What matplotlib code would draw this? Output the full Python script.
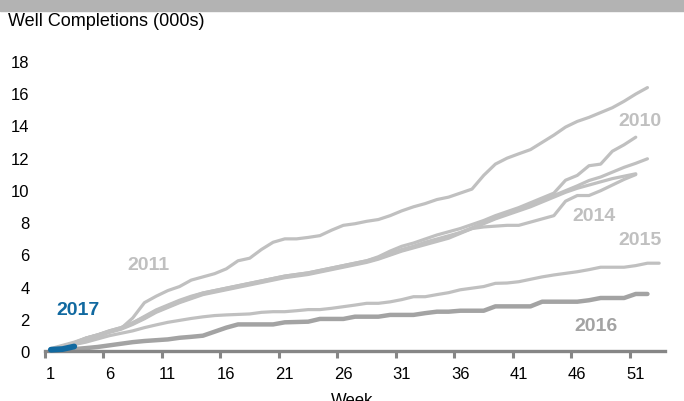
import numpy as np
import matplotlib.pyplot as plt
from matplotlib.patches import Rectangle

plt.rcParams['font.family'] = ['Liberation Sans', 'DejaVu Sans']

# weekly cumulative well completions (000s)
y2011 = [0.15, 0.35, 0.55, 0.8, 1.0, 1.2, 1.4, 2.05, 3.0, 3.4, 3.75, 4.0, 4.4, 4.6, 4.8,
         5.1, 5.6, 5.76, 6.3, 6.75, 6.96, 6.96, 7.05, 7.16, 7.5, 7.8, 7.9, 8.05, 8.16, 8.4,
         8.7, 8.95, 9.15, 9.4, 9.55, 9.8, 10.05, 10.9, 11.6, 11.97, 12.24, 12.5, 12.95, 13.4,
         13.9, 14.25, 14.5, 14.8, 15.1, 15.5, 15.95, 16.35]
y2010 = [0.1, 0.3, 0.5, 0.8, 1.0, 1.25, 1.45, 1.75, 2.15, 2.55, 2.85, 3.15, 3.4, 3.6, 3.75,
         3.9, 4.05, 4.2, 4.35, 4.5, 4.65, 4.75, 4.85, 5.0, 5.15, 5.3, 5.45, 5.6, 5.85, 6.2,
         6.5, 6.7, 6.95, 7.2, 7.4, 7.6, 7.85, 8.1, 8.4, 8.65, 8.9, 9.2, 9.5, 9.8, 10.6,
         10.9, 11.5, 11.6, 12.4, 12.8, 13.27]
y2012 = [0.1, 0.3, 0.5, 0.75, 0.95, 1.2, 1.4, 1.7, 2.05, 2.45, 2.75, 3.05, 3.3, 3.55, 3.7,
         3.85, 4.0, 4.15, 4.3, 4.45, 4.6, 4.7, 4.8, 4.95, 5.1, 5.25, 5.4, 5.55, 5.75, 6.0,
         6.25, 6.45, 6.7, 6.9, 7.1, 7.35, 7.65, 7.95, 8.25, 8.55, 8.8, 9.1, 9.4, 9.65, 9.95,
         10.25, 10.58, 10.8, 11.1, 11.4, 11.65, 11.93]
y2013 = [0.1, 0.25, 0.45, 0.7, 0.9, 1.15, 1.35, 1.65, 2.0, 2.4, 2.7, 3.0, 3.25, 3.5, 3.65,
         3.8, 3.95, 4.1, 4.25, 4.4, 4.55, 4.65, 4.75, 4.9, 5.05, 5.2, 5.35, 5.5, 5.7, 5.95,
         6.2, 6.4, 6.6, 6.8, 7.0, 7.3, 7.6, 7.9, 8.2, 8.45, 8.7, 8.95, 9.25, 9.55, 9.85,
         10.1, 10.3, 10.5, 10.7, 10.85, 11.0]
y2014 = [0.1, 0.3, 0.5, 0.8, 1.0, 1.25, 1.45, 1.75, 2.1, 2.5, 2.8, 3.1, 3.35, 3.6, 3.75,
         3.9, 4.05, 4.2, 4.35, 4.5, 4.65, 4.75, 4.85, 5.0, 5.15, 5.3, 5.45, 5.6, 5.8, 6.05,
         6.3, 6.5, 6.75, 6.95, 7.15, 7.35, 7.6, 7.7, 7.75, 7.8, 7.8, 8.0, 8.2, 8.4, 9.3,
         9.65, 9.65, 9.95, 10.3, 10.65, 10.95]
y2015 = [0.1, 0.25, 0.4, 0.55, 0.75, 0.95, 1.1, 1.25, 1.45, 1.62, 1.78, 1.9, 2.02, 2.12, 2.2,
         2.24, 2.27, 2.3, 2.4, 2.44, 2.44, 2.5, 2.57, 2.57, 2.65, 2.75, 2.85, 2.96, 2.96, 3.05,
         3.19, 3.37, 3.37, 3.5, 3.62, 3.8, 3.9, 4.0, 4.2, 4.22, 4.3, 4.45, 4.6, 4.72, 4.82,
         4.92, 5.05, 5.2, 5.2, 5.2, 5.3, 5.45, 5.45]
y2016 = [0.05, 0.08, 0.12, 0.18, 0.25, 0.35, 0.45, 0.55, 0.62, 0.67, 0.72, 0.82, 0.88, 0.95,
         1.2, 1.45, 1.65, 1.65, 1.65, 1.65, 1.78, 1.8, 1.82, 1.99, 1.99, 1.99, 2.13, 2.13, 2.13,
         2.24, 2.24, 2.24, 2.35, 2.44, 2.44, 2.5, 2.5, 2.5, 2.77, 2.77, 2.77, 2.77, 3.06, 3.06,
         3.06, 3.06, 3.15, 3.29, 3.29, 3.29, 3.54, 3.54]
y2017 = [0.08, 0.12, 0.28]

light = '#c0c0c0'
dark = '#a3a3a3'
blue = '#1169a0'
axis_col = '#868686'

fig = plt.figure(figsize=(6.84, 4.02), dpi=100)
ax = fig.add_axes([45 / 684, 1 - 352 / 402, 620 / 684, 290 / 402])

# grey band along the top
fig.patches.append(Rectangle((0, 1 - 12 / 402), 1, 12 / 402, transform=fig.transFigure,
                             color='#b3b3b3', zorder=0))

for ys in [y2015, y2014, y2013, y2012, y2010, y2011]:
    ax.plot(np.arange(1, len(ys) + 1), ys, color=light, lw=2.3, solid_capstyle='round',
            solid_joinstyle='round', clip_on=False)
ax.plot(np.arange(1, len(y2016) + 1), y2016, color=dark, lw=3.2, solid_capstyle='round',
        clip_on=False)
ax.plot(np.arange(1, len(y2017) + 1), y2017, color=blue, lw=4.2, solid_capstyle='round',
        clip_on=False, zorder=5)

# year labels
lab = dict(fontsize=14, fontweight='bold', ha='center', va='center')
ax.text(26.5 / 11.69 * 0 + 9.3, 5.4, '2011', color=light, **lab)
ax.text(3.3, 2.6, '2017', color=blue, **lab)
ax.text(51.4, 14.3, '2010', color=light, **lab)
ax.text(47.4, 8.4, '2014', color=light, **lab)
ax.text(51.4, 6.9, '2015', color=light, **lab)
ax.text(47.6, 1.6, '2016', color=dark, **lab)

ax.set_xlim(0.5, 53.5)
ax.set_ylim(0, 18)
ax.set_yticks(range(0, 19, 2))
ax.tick_params(axis='y', length=0, pad=11, labelsize=12)

weeks = list(range(1, 52, 5))
ax.set_xticks([w - 0.5 for w in weeks])
ax.set_xticklabels([])
ax.set_xticks(weeks, minor=True)
ax.set_xticklabels([str(w) for w in weeks], minor=True)
ax.tick_params(axis='x', which='major', length=5, width=2.2, color=axis_col)
ax.tick_params(axis='x', which='minor', length=0, pad=11, labelsize=12)

for s in ['left', 'top', 'right']:
    ax.spines[s].set_visible(False)
ax.spines['bottom'].set_color(axis_col)
ax.spines['bottom'].set_linewidth(2.4)

fig.text(8 / 684, 1 - 22 / 402, 'Well Completions (000s)', fontsize=13, va='center')
fig.text(352 / 684, 1 - 393 / 402, 'Week', fontsize=12, ha='center', va='top')

fig.savefig('out.png', dpi=100)
